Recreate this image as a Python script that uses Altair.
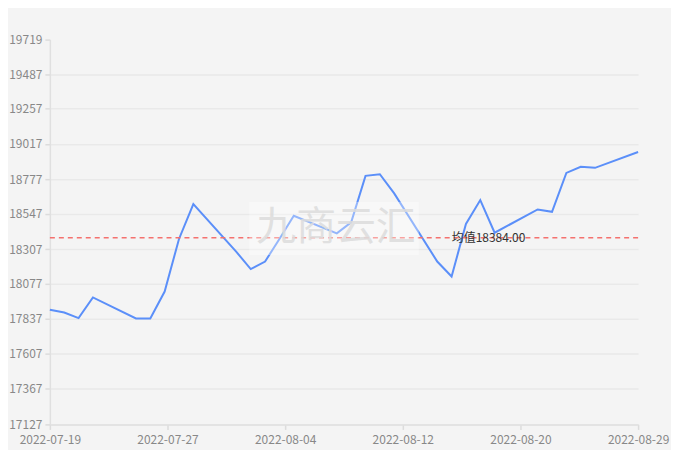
import altair as alt
import pandas as pd

dates = ["2022-07-19", "2022-07-20", "2022-07-21", "2022-07-22", "2022-07-25",
         "2022-07-26", "2022-07-27", "2022-07-28", "2022-07-29", "2022-08-01",
         "2022-08-02", "2022-08-03", "2022-08-04", "2022-08-05", "2022-08-08",
         "2022-08-09", "2022-08-10", "2022-08-11", "2022-08-12", "2022-08-15",
         "2022-08-16", "2022-08-17", "2022-08-18", "2022-08-19", "2022-08-22",
         "2022-08-23", "2022-08-24", "2022-08-25", "2022-08-26", "2022-08-29"]
values = [17899, 17881, 17843, 17982, 17841,
          17841, 18022, 18376, 18611, 18289,
          18173, 18224, 18376, 18532, 18414,
          18488, 18801, 18812, 18683, 18224,
          18123, 18477, 18638, 18418, 18575,
          18559, 18821, 18862, 18855, 18962]
y_ticks = [17127, 17367, 17607, 17837, 18077, 18307, 18547, 18777, 19017, 19257, 19487, 19719]
mean_value = 18384.00
mean_label = "均值18384.00"
watermark = "九商云汇"

x_start = pd.Timestamp("2022-07-19", tz="UTC")
x_end = pd.Timestamp("2022-08-29", tz="UTC")
x_splits = 5
x_tick_ms = [int((x_start + (x_end - x_start) * k / x_splits).timestamp() * 1000) for k in range(x_splits + 1)]

df = pd.DataFrame({"date": dates, "value": values})
FONT = "Noto Sans CJK SC"

y_scale = alt.Scale(domain=[y_ticks[0], y_ticks[-1]], nice=False, zero=False)
y_axis = alt.Axis(values=y_ticks, tickCount=len(y_ticks), format="d", title=None,
                  labelColor="#888888", labelFontSize=12, labelFont=FONT,
                  domainColor="#e0e0e0", domainWidth=1.5,
                  tickColor="#dcdcdc", tickWidth=1.5, tickSize=5, labelPadding=3,
                  labelOverlap=False, labelFlush=False,
                  gridColor={"condition": {"test": "datum.value == 19719", "value": "transparent"},
                             "value": "#e9e9e9"},
                  gridWidth=1.5)

x_enc = alt.X("date:T",
              scale=alt.Scale(type="utc", domain=[int(x_start.timestamp() * 1000), int(x_end.timestamp() * 1000)]),
              axis=alt.Axis(values=x_tick_ms, tickCount=len(x_tick_ms),
                            labelExpr="utcFormat(datum.value, '%Y-%m-%d')", title=None,
                            grid=False, labelColor="#888888", labelFontSize=12, labelFont=FONT,
                            domainColor="#e0e0e0", domainWidth=1.5, tickColor="#dcdcdc", tickWidth=1.5,
                            tickSize=5, labelPadding=5, labelOverlap=False, labelFlush=False))

line = alt.Chart(df).mark_line(color="#5b8ff9", strokeWidth=2).encode(
    x=x_enc, y=alt.Y("value:Q", scale=y_scale, axis=y_axis))

mean_df = pd.DataFrame({"value": [mean_value], "label": [mean_label]})
rule = alt.Chart(mean_df).mark_rule(color="#f4716e", strokeWidth=1.5, strokeDash=[5, 4]).encode(
    y=alt.Y("value:Q", scale=y_scale, axis=y_axis))
mean_text = alt.Chart(mean_df).mark_text(font=FONT, fontSize=12, color="#333333", baseline="middle").encode(
    y=alt.Y("value:Q", scale=y_scale, axis=y_axis), x=alt.value(440), text="label:N")

wm_df = pd.DataFrame({"text": [watermark]})
wm_box = alt.Chart(wm_df).mark_rect(color="white", opacity=0.35).encode(
    x=alt.value(200), x2=alt.value(370), y=alt.value(163), y2=alt.value(216))
wm_text = alt.Chart(wm_df).mark_text(font=FONT, fontSize=40, color="#dcdcdc", opacity=0.85,
                                     baseline="middle", align="center").encode(
    x=alt.value(287), y=alt.value(189), text="text:N")

chart = alt.layer(line, rule, mean_text, wm_box, wm_text).properties(
    width=590, height=386,
    autosize=alt.AutoSizeParams(type="none"),
    padding={"left": 42, "top": 31, "right": 33, "bottom": 25},
    background="#f4f4f4",
).configure_view(stroke=None)

chart.save("out.html", embed_options={"renderer": "svg", "actions": False})
